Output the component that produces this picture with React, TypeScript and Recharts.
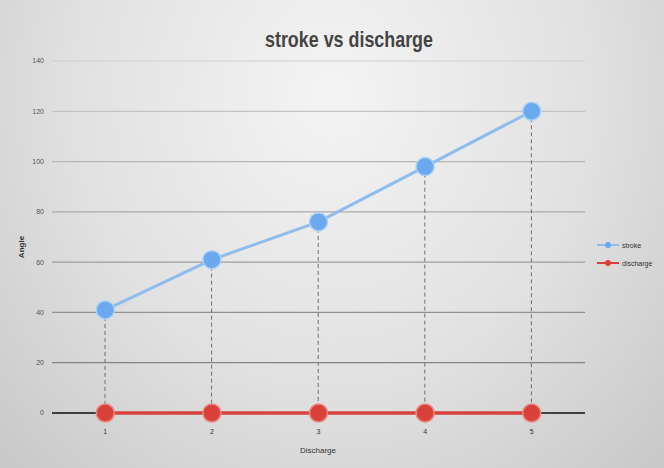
import { Bar, CartesianGrid, ComposedChart, Line, ReferenceLine, XAxis, YAxis } from "recharts";

const categories = ["1", "2", "3", "4", "5"];
const strokeValues = [41, 61, 76, 98, 120];
const dischargeValues = [0, 0, 0, 0, 0];
const yTicks = [0, 20, 40, 60, 80, 100, 120, 140];

const data = categories.map((c, i) => ({
    name: c,
    stroke: strokeValues[i],
    discharge: dischargeValues[i],
}));

const legendItems = [
    { name: "stroke", color: "#8ebcec", dot: "#6aa9ef" },
    { name: "discharge", color: "#d7423c", dot: "#d9403a" },
];

// dashed drop line from each stroke point down to the axis
const DropLine = (props: any) => {
    const { x, y, width, height } = props;
    if (height == null || isNaN(height)) return null;
    const cx = x + width / 2;
    return <line x1={cx} x2={cx} y1={y} y2={y + height} stroke="#6f6f6f" strokeWidth={1} strokeDasharray="4 3" />;
};

export default function App() {
    return (
        <div style={{ position: "absolute", left: 0, top: 0, width: 664, height: 468, fontFamily: "'Liberation Sans', Arial, sans-serif" }}>
            <ComposedChart
                width={664}
                height={468}
                data={data}
                margin={{ top: 61, right: 79, bottom: 25, left: 0 }}
                style={{ background: "radial-gradient(ellipse at 50% 20%, #f4f4f4 0%, #e1e1e1 55%, #c8c8c8 100%)" }}
            >
                <defs>
                    <linearGradient id="gridGrad" gradientUnits="userSpaceOnUse" x1="0" y1="61" x2="0" y2="413">
                        <stop offset="0%" stopColor="#d0d0d0" />
                        <stop offset="100%" stopColor="#777" />
                    </linearGradient>
                </defs>
                <text x={349} y={47} textAnchor="middle" fontSize={22} fontWeight="bold" fill="#444" textLength={168} lengthAdjust="spacingAndGlyphs">
                    stroke vs discharge
                </text>
                <text x={24} y={247} textAnchor="middle" fontSize={8} fontWeight="bold" fill="#333" transform="rotate(-90 24 247)">
                    Angle
                </text>
                <text x={318} y={453} textAnchor="middle" fontSize={8} fill="#333">
                    Discharge
                </text>
                <CartesianGrid vertical={false} stroke="url(#gridGrad)" strokeWidth={1.2} />
                <XAxis
                    dataKey="name"
                    height={30}
                    tickLine={false}
                    axisLine={false}
                    tick={{ fontSize: 7, fill: "#333" }}
                    tickMargin={10}
                />
                <YAxis
                    width={52}
                    domain={[0, 140]}
                    ticks={yTicks}
                    tickLine={false}
                    axisLine={false}
                    tick={{ fontSize: 7, fill: "#555" }}
                />
                <ReferenceLine y={0} stroke="#1e1e1e" strokeWidth={1.5} />
                <Bar dataKey="stroke" barSize={2} shape={<DropLine />} legendType="none" isAnimationActive={false} />
                <Line
                    dataKey="discharge"
                    name="discharge"
                    stroke="#d7423c"
                    strokeWidth={3.5}
                    dot={{ r: 9, fill: "#d9403a", stroke: "#e88a84", strokeWidth: 1.5 }}
                    isAnimationActive={false}
                />
                <Line
                    dataKey="stroke"
                    name="stroke"
                    stroke="#8ebcec"
                    strokeWidth={3}
                    dot={{ r: 9, fill: "#6aa9ef", stroke: "#a9cff5", strokeWidth: 1.5 }}
                    isAnimationActive={false}
                />
            </ComposedChart>
            <div style={{ position: "absolute", left: 597, top: 236, fontSize: 7, color: "#333" }}>
                {legendItems.map((it) => (
                    <div key={it.name} style={{ display: "flex", alignItems: "center", height: 18 }}>
                        <svg width={22} height={10} style={{ marginRight: 3 }}>
                            <line x1={0} x2={22} y1={5} y2={5} stroke={it.color} strokeWidth={2} />
                            <circle cx={11} cy={5} r={3} fill={it.dot} />
                        </svg>
                        <span>{it.name}</span>
                    </div>
                ))}
            </div>
        </div>
    );
}
